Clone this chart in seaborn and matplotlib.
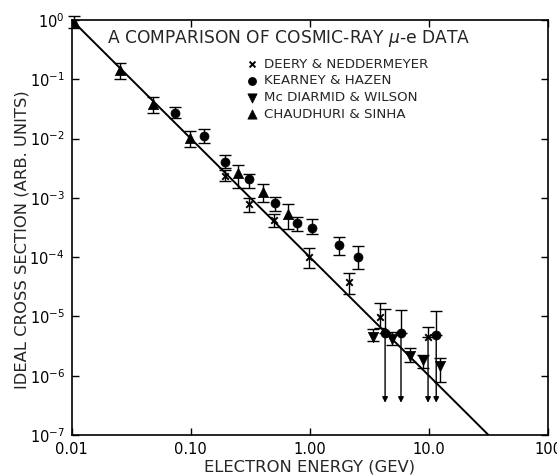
import matplotlib
matplotlib.use("Agg")
import matplotlib.pyplot as plt
from matplotlib.ticker import NullLocator
import numpy as np
import seaborn as sns

# ---------------- data ----------------
deery_x = [0.194, 0.308, 0.50, 0.98, 2.13, 3.88, 9.82]
deery_y = [2.3e-3, 7.9e-4, 4.2e-4, 1.0e-4, 3.8e-5, 9.8e-6, 4.5e-6]
deery_hi = [2.95e-3, 1.0e-3, 5.35e-4, 1.43e-4, 5.4e-5, 1.69e-5, 6.65e-6]
deery_lo = [1.9e-3, 5.8e-4, 3.2e-4, 6.6e-5, 2.4e-5, 6.4e-6, 3.5e-7]
deery_limit = [False, False, False, False, False, False, True]

kearney_x = [0.0736, 0.129, 0.194, 0.308, 0.509, 0.78, 1.04, 1.75, 2.54, 4.28, 5.82, 11.5]
kearney_y = [2.7e-2, 1.11e-2, 4.0e-3, 2.05e-3, 8.2e-4, 3.77e-4, 3.1e-4, 1.61e-4, 1.0e-4, 5.2e-6, 5.2e-6, 4.9e-6]
kearney_hi = [3.4e-2, 1.45e-2, 5.2e-3, 2.53e-3, 1.04e-3, 4.76e-4, 4.4e-4, 2.19e-4, 1.55e-4, 1.34e-5, 1.28e-5, 1.24e-5]
kearney_lo = [2.2e-2, 8.4e-3, 3.2e-3, 1.47e-3, 6.0e-4, 2.77e-4, 2.46e-4, 1.09e-4, 6.3e-5, 3.5e-7, 3.5e-7, 3.5e-7]
kearney_limit = [False] * 9 + [True, True, True]

mcd_x = [3.39, 4.89, 6.92, 8.92, 12.4]
mcd_y = [4.5e-6, 4.2e-6, 2.16e-6, 1.85e-6, 1.46e-6]
mcd_hi = [6.15e-6, 5.5e-6, 2.94e-6, 2.24e-6, 2.0e-6]
mcd_lo = [3.86e-6, 3.3e-6, 1.71e-6, 1.35e-6, 7.9e-7]
mcd_limit = [False] * 5

chaud_x = [0.0105, 0.0255, 0.0482, 0.0984, 0.249, 0.404, 0.655]
chaud_y = [0.93, 0.143, 0.0383, 0.0102, 2.63e-3, 1.26e-3, 5.35e-4]
chaud_hi = [1.17, 0.188, 0.0503, 0.0134, 3.59e-3, 1.71e-3, 7.9e-4]
chaud_lo = [0.72, 0.101, 0.027, 0.0072, 1.47e-3, 8.5e-4, 3.0e-4]
chaud_limit = [False] * 7

fit_x = [0.01, 31.6]
fit_y = [1.0, 1.0e-7]

labels = ["DEERY & NEDDERMEYER", "KEARNEY & HAZEN", "Mc DIARMID & WILSON", "CHAUDHURI & SINHA"]
x_ticks = [0.01, 0.1, 1, 10, 100]
x_ticklabels = ["0.01", "0.10", "1.00", "10.0", "100"]
y_ticks = [1e-7, 1e-6, 1e-5, 1e-4, 1e-3, 1e-2, 1e-1, 1]
y_ticklabels = [r"$10^{-7}$", r"$10^{-6}$", r"$10^{-5}$", r"$10^{-4}$",
                r"$10^{-3}$", r"$10^{-2}$", r"$10^{-1}$", r"$10^{0}$"]

# ---------------- style ----------------
sns.set_style("ticks")
plt.rcParams["font.family"] = ["DejaVu Sans"]
plt.rcParams["mathtext.fontset"] = "dejavusans"

fig, ax = plt.subplots(figsize=(5.57, 4.76), dpi=100)
fig.subplots_adjust(left=0.1287, right=0.984, bottom=0.0861, top=0.958)
ax.set_xscale("log")
ax.set_yscale("log")

# fitted line
sns.lineplot(x=fit_x, y=fit_y, ax=ax, color="black", linewidth=1.4, legend=False)

series = [
    (deery_x, deery_y, deery_hi, deery_lo, deery_limit, "x", 22, labels[0]),
    (kearney_x, kearney_y, kearney_hi, kearney_lo, kearney_limit, "o", 42, labels[1]),
    (mcd_x, mcd_y, mcd_hi, mcd_lo, mcd_limit, "v", 55, labels[2]),
    (chaud_x, chaud_y, chaud_hi, chaud_lo, chaud_limit, "^", 55, labels[3]),
]

for xs, ys, his, los, lims, mk, size, lab in series:
    xs = np.array(xs); ys = np.array(ys); his = np.array(his); los = np.array(los)
    lims = np.array(lims)
    lower = np.where(lims, 0.0, ys - los)
    upper = his - ys
    ax.errorbar(xs, ys, yerr=[lower, upper], fmt="none", ecolor="black",
                elinewidth=1.0, capsize=4, capthick=1.0, clip_on=False, zorder=2)
    for xv, yv, lv, lm in zip(xs, ys, los, lims):
        if lm:
            ax.annotate("", xy=(xv, lv), xytext=(xv, yv),
                        arrowprops=dict(arrowstyle="-|>", color="black", lw=1.0,
                                        mutation_scale=8, shrinkA=0, shrinkB=0))
    if mk == "x":
        sns.scatterplot(x=xs, y=ys, ax=ax, marker=mk, s=size, color="black",
                        linewidth=1.4, label=lab, zorder=3)
    else:
        sns.scatterplot(x=xs, y=ys, ax=ax, marker=mk, s=size, color="black",
                        edgecolor="black", linewidth=0.5, label=lab, zorder=3)

ax.set_xlim(0.01, 100)
ax.set_ylim(1e-7, 1)
ax.set_xticks(x_ticks)
ax.set_xticklabels(x_ticklabels)
ax.set_yticks(y_ticks)
ax.set_yticklabels(y_ticklabels)
ax.xaxis.set_minor_locator(NullLocator())
ax.yaxis.set_minor_locator(NullLocator())
ax.tick_params(which="major", direction="in", length=5, width=1.0,
               top=True, right=True, labelsize=10.5, pad=5, colors="black")
for sp in ax.spines.values():
    sp.set_linewidth(1.2)
    sp.set_color("black")

ax.set_xlabel("ELECTRON ENERGY (GEV)", fontsize=11.8, labelpad=2)
ax.set_ylabel("IDEAL CROSS SECTION (ARB. UNITS)", fontsize=11.8, labelpad=0)
ax.yaxis.label.set_y(0.47)

ax.text(0.456, 0.955, r"A COMPARISON OF COSMIC-RAY $\mu$-e DATA",
        transform=ax.transAxes, ha="center", va="center", fontsize=12.3)

handles, labs = ax.get_legend_handles_labels()
order = [labs.index(l) for l in labels]
ax.legend([handles[i] for i in order], [labs[i] for i in order],
          loc="upper left", bbox_to_anchor=(0.35, 0.922), frameon=False,
          fontsize=9.6, handletextpad=0.3, labelspacing=0.28,
          borderaxespad=0, handlelength=1.2, markerscale=0.9)

fig.savefig("out.png", dpi=100, facecolor="white")
